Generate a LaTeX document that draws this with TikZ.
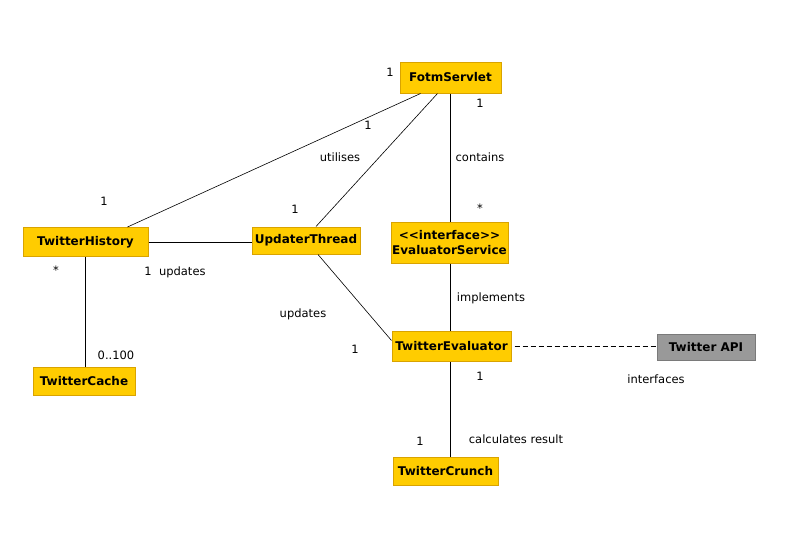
\documentclass[tikz,border=0pt]{standalone}
\usepackage{fontspec}
\setmainfont{DejaVu Sans}
\definecolor{boxfill}{HTML}{FFCC00}
\definecolor{boxedge}{HTML}{D9A300}
\definecolor{apifill}{HTML}{999999}
\definecolor{apiedge}{HTML}{7A7A7A}
\begin{document}
\begin{tikzpicture}[x=1pt,y=-1pt,
  cls/.style={draw=boxedge,fill=boxfill,line width=1pt,inner sep=0pt,align=center,font=\fontsize{12}{14.5}\selectfont\bfseries},
  api/.style={draw=apiedge,fill=apifill,line width=1pt,inner sep=0pt,font=\fontsize{12}{14}\selectfont\bfseries},
  lbl/.style={font=\fontsize{11.5}{13}\selectfont,inner sep=0pt},
  conn/.style={draw=black,line width=0.6pt}]
\useasboundingbox (0,0) rectangle (787,547);
\node[cls,minimum width=101pt,minimum height=31pt] (fs) at (450.5,77.5) {FotmServlet};
\node[cls,minimum width=125pt,minimum height=29pt] (th) at (85.5,242) {TwitterHistory};
\node[cls,minimum width=117pt,minimum height=41pt] (es) at (449.5,242.5) {{<}{<}interface{>}{>}\\EvaluatorService};
\node[cls,minimum width=119pt,minimum height=30pt] (te) at (451.5,346.5) {TwitterEvaluator};
\node[api,minimum width=98pt,minimum height=26pt] (api) at (706,347.5) {Twitter API};
\node[cls,minimum width=102pt,minimum height=28pt] (tc) at (84,381) {TwitterCache};
\node[cls,minimum width=105pt,minimum height=28pt] (cr) at (445.5,471) {TwitterCrunch};
\node[cls,minimum width=108pt,minimum height=27pt] (ut) at (306,240.5) {UpdaterThread};

\draw[conn] ([xshift=-30pt]fs.south) -- ([xshift=42pt]th.north);
\draw[conn] ([xshift=-13pt]fs.south) -- ([xshift=10pt]ut.north);
\draw[conn] (fs.south) -- (fs.south |- es.north);
\draw[conn] (th.east) -- (th.east -| ut.west);
\draw[conn] (th.south) -- (th.south |- tc.north);
\draw[conn] ([xshift=12pt]ut.south) -- ([yshift=6pt]te.west);
\draw[conn] (fs.south |- es.south) -- (fs.south |- te.north);
\draw[conn,dash pattern=on 5pt off 3pt,dash phase=-3pt] (te.east) -- (te.east -| api.west);
\draw[conn] (fs.south |- te.south) -- (fs.south |- cr.north);

\node[lbl] (l1) at (390,72) {1};
\node[lbl] (l2) at (480,103) {1};
\node[lbl] (l3) at (368,125) {1};
\node[lbl] (l4) at (340,157) {utilises};
\node[lbl] (l5) at (480,157) {contains};
\node[lbl] (l6) at (104,201) {1};
\node[lbl] (l7) at (295,209) {1};
\node[lbl] (l8) at (480,208) {*};
\node[lbl] (l9) at (56,270) {*};
\node[lbl] (l10) at (175,272) {1\ \ updates};
\node[lbl] (l11) at (491,298) {implements};
\node[lbl] (l12) at (303,314) {updates};
\node[lbl] (l13) at (116,355) {0..100};
\node[lbl] (l14) at (355,349) {1};
\node[lbl] (l15) at (480,376) {1};
\node[lbl] (l16) at (656,379) {interfaces};
\node[lbl] (l17) at (420,441) {1};
\node[lbl] (l18) at (516,439) {calculates result};
\end{tikzpicture}
\end{document}
